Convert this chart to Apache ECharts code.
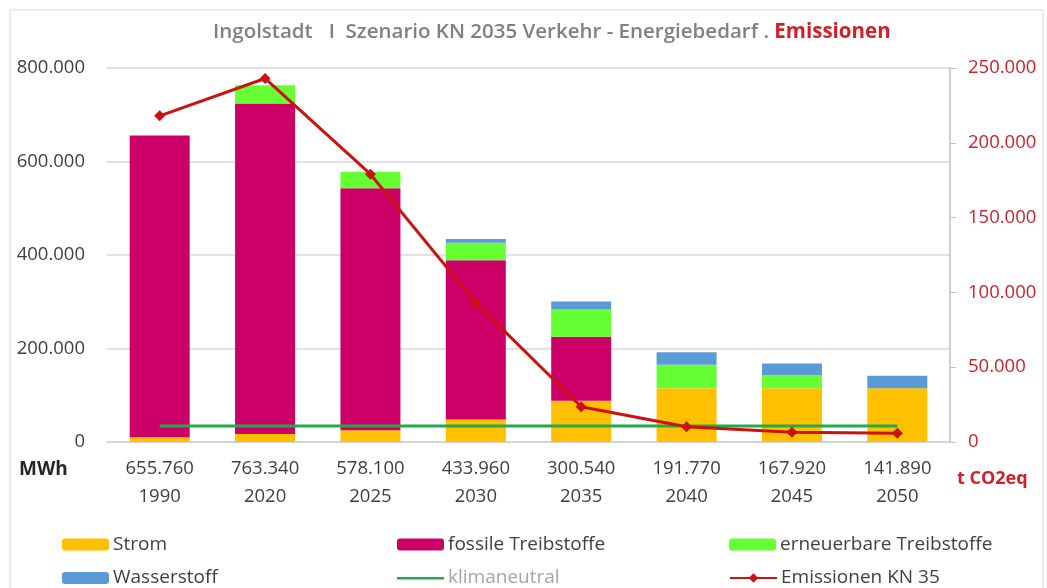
<!DOCTYPE html>
<html>
<head>
<meta charset="utf-8">
<script src="https://cdn.jsdelivr.net/npm/echarts@6/dist/echarts.min.js"></script>
<style>html,body{margin:0;padding:0;background:#fff;}#c{width:1047px;height:588px;}</style>
</head>
<body>
<div id="c"></div>
<script>
const years = ['1990','2020','2025','2030','2035','2040','2045','2050'];
const totalLabels = ['655.760','763.340','578.100','433.960','300.540','191.770','167.920','141.890'];
const strom = [10000, 17000, 25000, 48000, 88000, 115000, 115000, 115000];
const fossil = [645760, 707000, 518000, 341000, 137000, 0, 0, 0];
const erneuerbar = [0, 39340, 35100, 37000, 59500, 50000, 28000, 0];
const wasserstoff = [0, 0, 0, 7960, 16040, 26770, 24920, 26890];
const klimaneutral = [10700, 10700, 10700, 10700, 10700, 10700, 10700, 10700];
const emissionen = [218000, 243000, 179000, 93000, 23600, 10200, 6500, 5800];
const leftTicks = {min: 0, max: 800000, interval: 200000};
const rightTicks = {min: 0, max: 250000, interval: 50000};

const fmt = v => String(v).replace(/\B(?=(\d{3})+(?!\d))/g, '.');
const FONT = '"Open Sans", "Noto Sans", sans-serif';
const LINE_ICON = 'path://M0,0L0.01,0L0.01,0.01Z M0,5L47,5L47,7.5L0,7.5Z M0,12L0.01,12L0.01,11.99Z';

const chart = echarts.init(document.getElementById('c'));
function leg(left, top, item) {
  return {
    orient: 'horizontal', left: left, top: top, padding: 0,
    itemWidth: 47, itemHeight: 12,
    textStyle: {fontFamily: FONT, fontSize: 19, lineHeight: 20, color: '#404040', padding: [0,0,0,-1]},
    selectedMode: false, data: [item]
  };
}
const row1 = 534.5, row2 = 568;
chart.setOption({
  animation: false,
  backgroundColor: '#fff',
  title: {
    text: '{a|Ingolstadt   I  Szenario KN 2035 Verkehr - Energiebedarf . }{b|Emissionen}',
    left: 208, top: 17,
    textStyle: {
      rich: {
        a: {fontFamily: FONT, fontSize: 20.5, fontWeight: 600, color: '#808080'},
        b: {fontFamily: FONT, fontSize: 20.5, fontWeight: 'bold', color: '#d0202a'}
      }
    }
  },
  graphic: [
    {type: 'rect', shape: {x: 10, y: 10, width: 1033, height: 600}, style: {fill: 'none', stroke: '#d9d9d9', lineWidth: 1}, silent: true},
    {type: 'text', left: 19, top: 460, style: {text: 'MWh', fontFamily: FONT, fontSize: 19, fontWeight: 'bold', fill: '#262626'}},
    {type: 'text', left: 957, top: 470, style: {text: 't CO2eq', fontFamily: FONT, fontSize: 18, fontWeight: 'bold', fill: '#d0202a'}}
  ],
  legend: [
    leg(62, row1, 'Strom'),
    leg(62, row2, 'Wasserstoff'),
    leg(397, row1, 'fossile Treibstoffe'),
    leg(397, row2, {name: 'klimaneutral', icon: LINE_ICON, textStyle: {color: '#a6a6a6'}}),
    leg(729, row1, 'erneuerbare Treibstoffe'),
    leg(729, row2, 'Emissionen KN 35')
  ],
  grid: {left: 107, right: 97, top: 68, bottom: 146, containLabel: false},
  xAxis: {
    type: 'category',
    data: years,
    boundaryGap: true,
    axisLine: {lineStyle: {color: '#d0d0d0', width: 1.5}},
    axisTick: {show: false},
    axisLabel: {
      margin: 13,
      fontFamily: FONT, fontSize: 18.5, color: '#404040', lineHeight: 28,
      formatter: (v, i) => totalLabels[i] + '\n' + v
    }
  },
  yAxis: [
    {
      type: 'value', min: leftTicks.min, max: leftTicks.max, interval: leftTicks.interval,
      axisLine: {show: false}, axisTick: {show: false},
      splitLine: {lineStyle: {color: '#d9d9d9', width: 1.5}},
      axisLabel: {margin: 22, fontFamily: FONT, fontSize: 18.5, color: '#404040', formatter: v => fmt(v)}
    },
    {
      type: 'value', min: rightTicks.min, max: rightTicks.max, interval: rightTicks.interval,
      position: 'right',
      axisLine: {show: true, lineStyle: {color: '#bfbfbf', width: 1.5}},
      axisTick: {show: true, length: 6, lineStyle: {color: '#bfbfbf'}},
      splitLine: {show: false},
      axisLabel: {margin: 18, fontFamily: FONT, fontSize: 18.5, color: '#d0202a', formatter: v => fmt(v)}
    }
  ],
  series: [
    {name: 'Strom', type: 'bar', stack: 'e', barWidth: 60, data: strom, itemStyle: {color: '#ffc000'}},
    {name: 'fossile Treibstoffe', type: 'bar', stack: 'e', barWidth: 60, data: fossil, itemStyle: {color: '#cc0066'}},
    {name: 'erneuerbare Treibstoffe', type: 'bar', stack: 'e', barWidth: 60, data: erneuerbar, itemStyle: {color: '#66ff33'}},
    {name: 'Wasserstoff', type: 'bar', stack: 'e', barWidth: 60, data: wasserstoff, itemStyle: {color: '#5b9bd5'}},
    {name: 'klimaneutral', type: 'line', yAxisIndex: 1, data: klimaneutral, symbol: 'none',
      lineStyle: {color: '#22aa4c', width: 3}, itemStyle: {color: '#22aa4c'}, z: 3},
    {name: 'Emissionen KN 35', type: 'line', yAxisIndex: 1, data: emissionen, symbol: 'diamond', symbolSize: 11,
      lineStyle: {color: '#cc1111', width: 3}, itemStyle: {color: '#cc1111'}, z: 4}
  ]
});
</script>
</body>
</html>
